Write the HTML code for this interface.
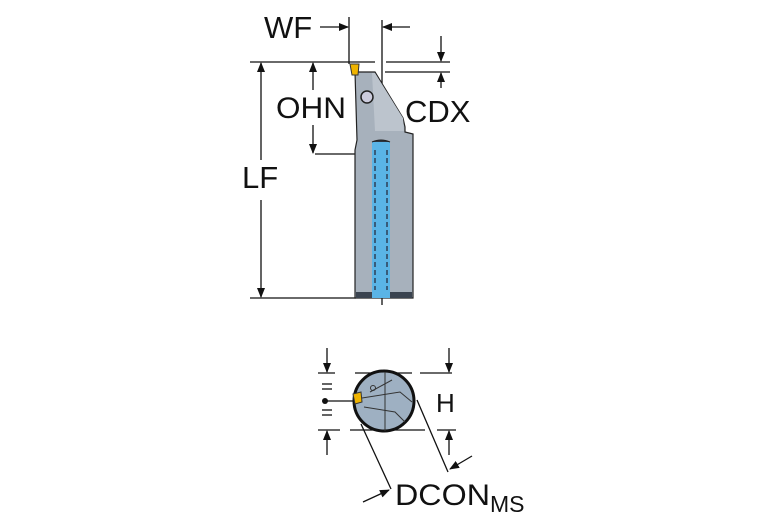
<!DOCTYPE html><html><head><style>body{margin:0;background:#fff}svg{display:block}text{font-family:"Liberation Sans",sans-serif;fill:#111}</style></head><body>
<svg width="767" height="523" viewBox="0 0 767 523">
<defs><marker id="a" markerWidth="10" markerHeight="8" refX="9" refY="4" orient="auto" markerUnits="userSpaceOnUse"><path d="M0,0 L10,4 L0,8 z" fill="#111"/></marker></defs>
<g stroke="#111" stroke-width="1.3" fill="none">
<line x1="250" y1="62" x2="375" y2="62"/><line x1="386" y1="62" x2="450" y2="62"/>
<line x1="385" y1="72" x2="450" y2="72"/>
<line x1="250" y1="298" x2="356" y2="298"/>
<line x1="261" y1="160" x2="261" y2="63" marker-end="url(#a)"/>
<line x1="261" y1="200" x2="261" y2="297" marker-end="url(#a)"/>
<line x1="313" y1="90" x2="313" y2="63" marker-end="url(#a)"/>
<line x1="313" y1="125" x2="313" y2="153" marker-end="url(#a)"/>
<line x1="315" y1="154" x2="356" y2="154"/>
<line x1="349" y1="17" x2="349" y2="64"/>
<line x1="382" y1="20" x2="382" y2="305"/>
<line x1="320" y1="27" x2="348" y2="27" marker-end="url(#a)"/>
<line x1="410" y1="27" x2="383" y2="27" marker-end="url(#a)"/>
<line x1="441" y1="36" x2="441" y2="61" marker-end="url(#a)"/>
<line x1="441" y1="88" x2="441" y2="73" marker-end="url(#a)"/>
</g>
<path d="M355,72 L375,72 L403,118 L405,127 L405,132 L413,134 L413,298 L355,298 L355,150 L357,140 Z" fill="#a7b1bc" stroke="#222" stroke-width="1.2"/>
<path d="M357,73 L375,73 L403,118 L404,131 L375,131 L372,73" fill="#bcc4cd" stroke="none"/>
<rect x="356" y="292" width="56" height="6" fill="#3b4450"/>
<rect x="372" y="142" width="18" height="156" fill="#5ab4e6"/>
<path d="M372,142 Q381,138 390,142" fill="#2c3540" stroke="#222"/>
<line x1="375" y1="150" x2="375" y2="290" stroke="#223" stroke-width="1.2" stroke-dasharray="5,3"/>
<line x1="387" y1="150" x2="387" y2="290" stroke="#223" stroke-width="1.2" stroke-dasharray="5,3"/>
<circle cx="367" cy="97" r="6" fill="#ccd" stroke="#222" stroke-width="1.5"/>
<path d="M350,64 L359,64 L358,75 L352,75 Z" fill="#f0b400" stroke="#333"/>
<text x="264" y="38" font-size="31">WF</text>
<text x="276" y="118" font-size="30" textLength="70" lengthAdjust="spacingAndGlyphs">OHN</text>
<text x="405" y="122" font-size="31">CDX</text>
<text x="242" y="188" font-size="31">LF</text>
<g stroke="#111" stroke-width="1.3" fill="none">
<line x1="318" y1="373" x2="335" y2="373"/><line x1="355" y1="373" x2="412" y2="373"/><line x1="420" y1="373" x2="452" y2="373"/>
<line x1="318" y1="430" x2="340" y2="430"/><line x1="350" y1="430" x2="425" y2="430"/><line x1="437" y1="430" x2="456" y2="430"/>
<line x1="327" y1="348" x2="327" y2="372" marker-end="url(#a)"/>
<line x1="327" y1="455" x2="327" y2="431" marker-end="url(#a)"/>
<line x1="449" y1="348" x2="449" y2="372" marker-end="url(#a)"/>
<line x1="449" y1="455" x2="449" y2="431" marker-end="url(#a)"/>
<line x1="322" y1="384" x2="332" y2="384"/><line x1="322" y1="389" x2="332" y2="389"/>
<line x1="322" y1="410" x2="332" y2="410"/><line x1="322" y1="415" x2="332" y2="415"/>
<line x1="325" y1="401" x2="356" y2="401"/>
<line x1="361" y1="424" x2="391" y2="489"/>
<line x1="417" y1="400" x2="448" y2="472"/>
<line x1="363" y1="502" x2="389" y2="490" marker-end="url(#a)"/>
<line x1="472" y1="456" x2="450" y2="469" marker-end="url(#a)"/>
</g>
<circle cx="325" cy="401" r="3" fill="#111"/>
<circle cx="384" cy="401" r="30" fill="#9eb0c2" stroke="#111" stroke-width="3"/>
<g stroke="#333" stroke-width="1" fill="none"><line x1="385" y1="372" x2="385" y2="431"/><path d="M362,398 L400,392 L412,402"/><path d="M364,407 L395,412 L405,422"/><path d="M370,392 L392,380"/><circle cx="373" cy="388" r="2.5"/></g>
<path d="M353,394 L361,392 L362,402 L355,404 Z" fill="#f0b400" stroke="#333"/>
<text x="436" y="412" font-size="26">H</text>
<text x="395" y="505" font-size="30" textLength="95" lengthAdjust="spacingAndGlyphs">DCON</text>
<text x="490" y="512" font-size="23">MS</text>
</svg></body></html>
